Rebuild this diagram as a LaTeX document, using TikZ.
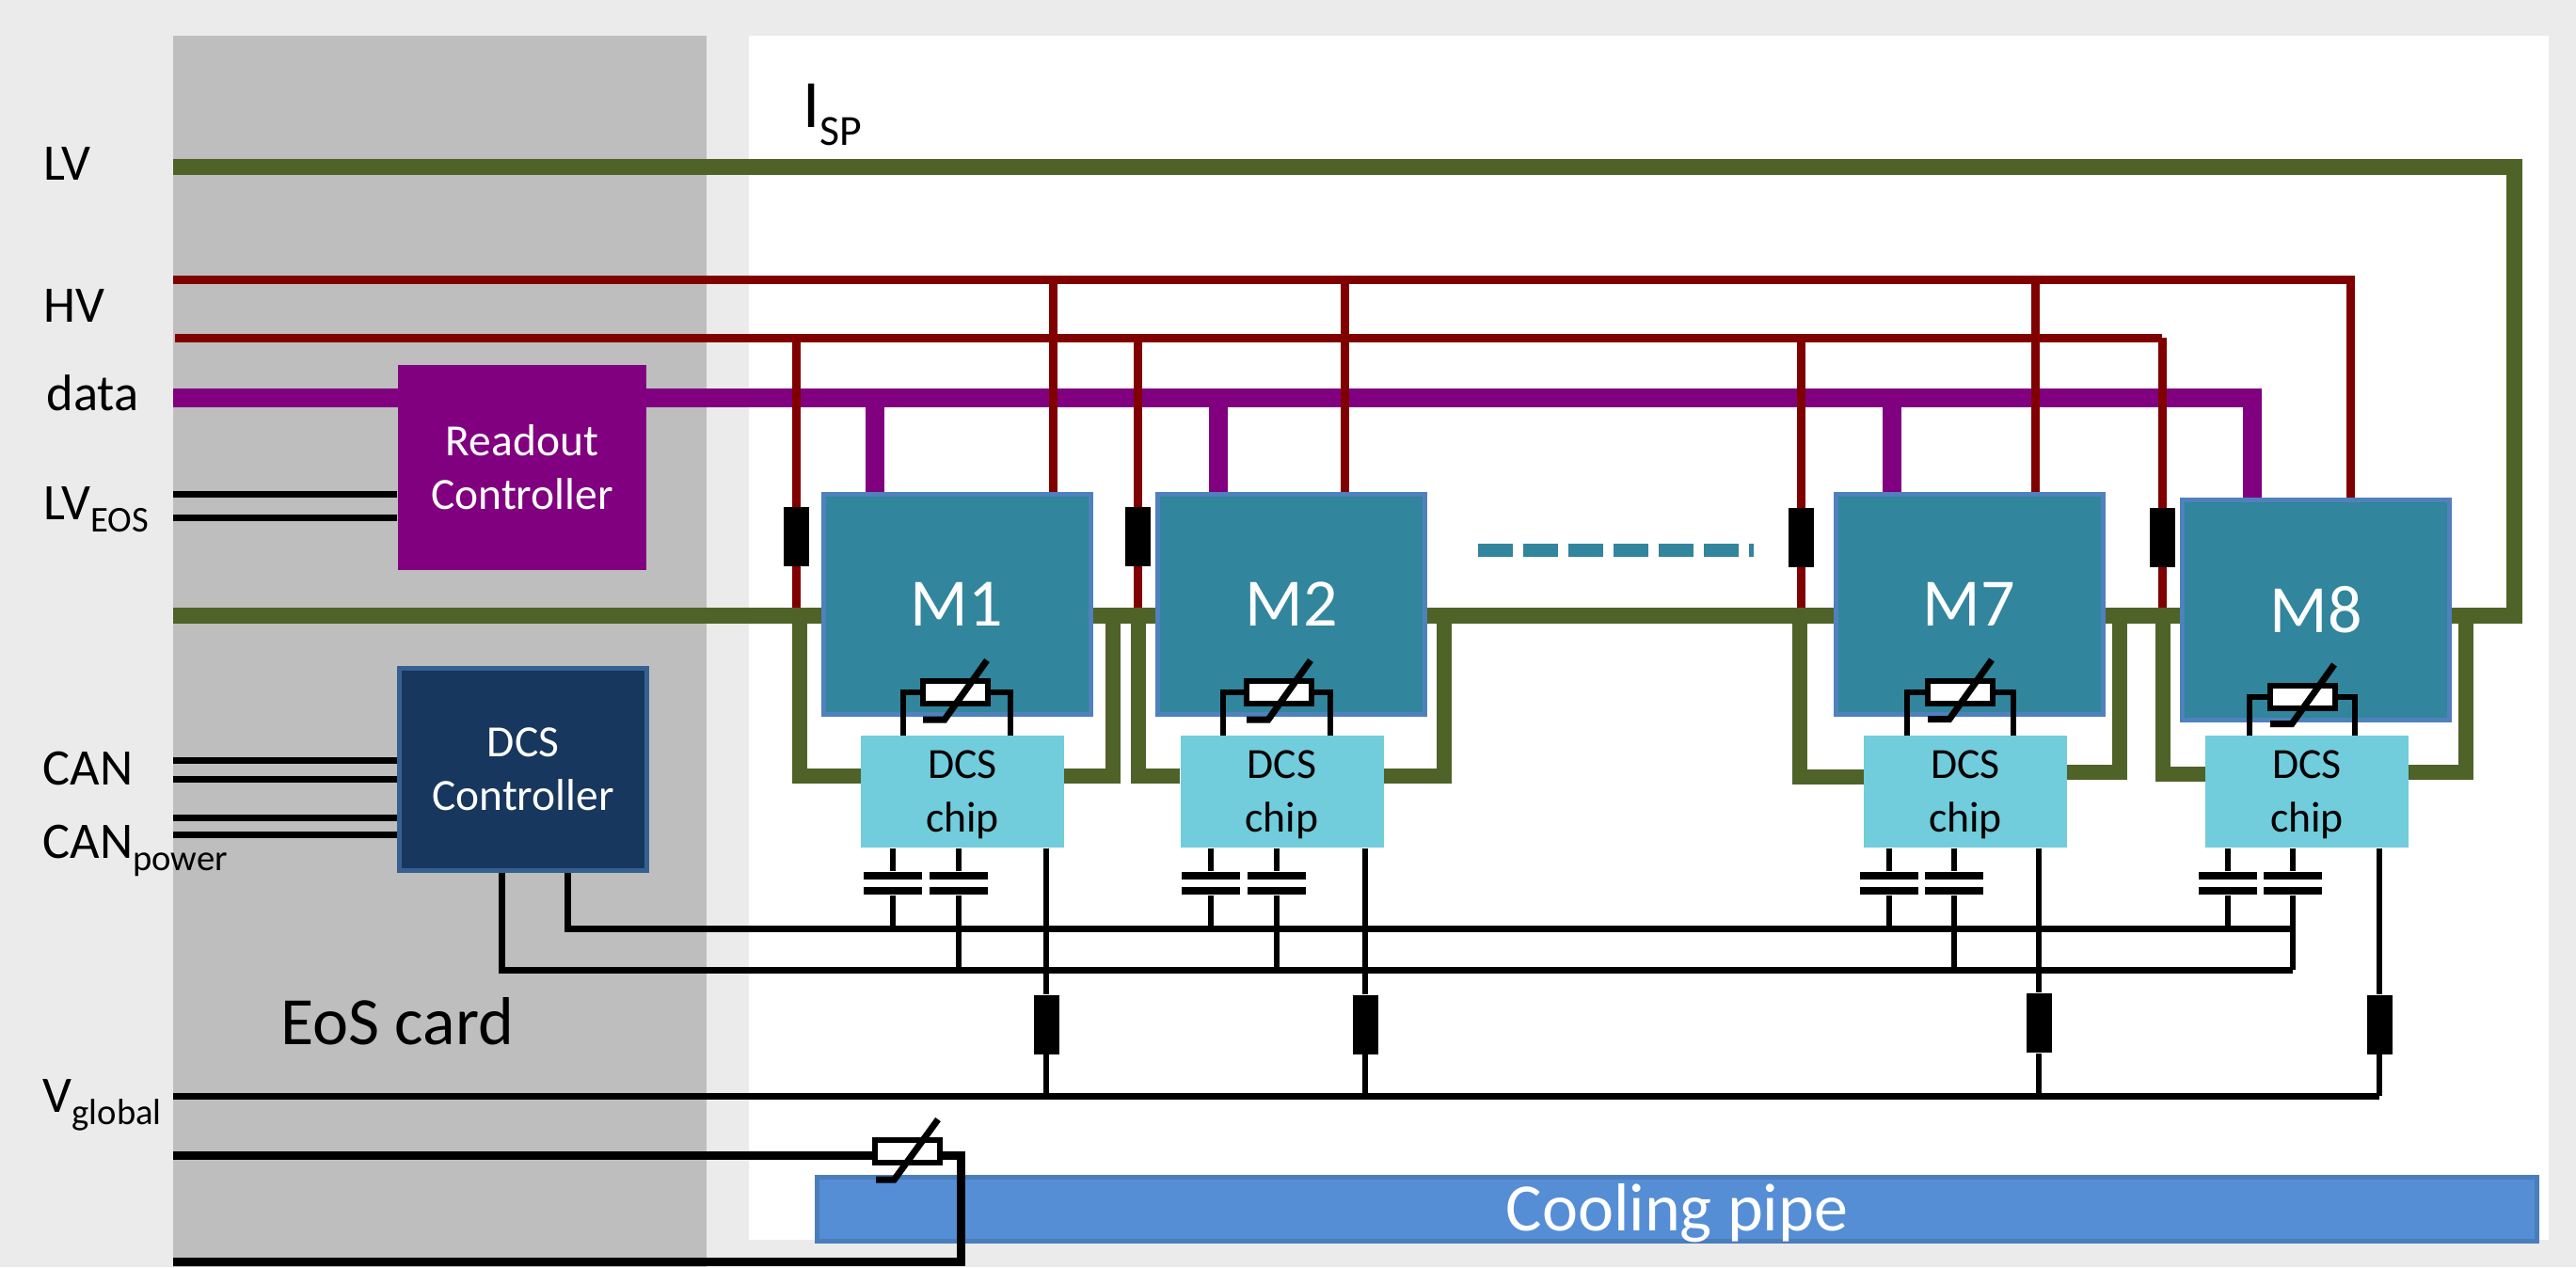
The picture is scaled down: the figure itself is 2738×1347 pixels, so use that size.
\documentclass[tikz,border=0pt]{standalone}
\usepackage{fontspec}
\setmainfont{Carlito}
\usepackage{xcolor}
\definecolor{cardBack}{HTML}{BEBEBE}
\definecolor{pageBack}{HTML}{EBEBEB}
\definecolor{wireLV}{HTML}{4F6228}
\definecolor{wireHV}{HTML}{800000}
\definecolor{wireData}{HTML}{800080}
\definecolor{modFill}{HTML}{31859C}
\definecolor{modEdge}{HTML}{4F81BD}
\definecolor{chipFill}{HTML}{71CCDC}
\definecolor{ctrlFill}{HTML}{17375E}
\definecolor{ctrlEdge}{HTML}{376092}
\definecolor{pipeFill}{HTML}{558ED5}
\definecolor{pipeEdge}{HTML}{4A7EBB}
\usetikzlibrary{calc}
\newcommand{\lowtxt}[1]{\raisebox{-1.3mm}{\fontsize{11}{11}\selectfont #1}}
\tikzset{
  lbl/.style={anchor=base west, inner sep=0pt, font=\fontsize{15.5}{18}\selectfont},
  bigbl/.style={anchor=base west, inner sep=0pt, font=\fontsize{20.5}{24}\selectfont},
  modbox/.style={draw=modEdge, line width=0.5mm, fill=modFill, text=white, inner sep=0pt, minimum width=28.4mm, minimum height=23.4mm, font=\fontsize{20.5}{24}\selectfont},
  chipbox/.style={fill=chipFill, inner sep=0pt, minimum width=21.6mm, minimum height=11.9mm, align=center, text depth=-1.5pt, font=\fontsize{13}{16.2}\selectfont},
  rdobox/.style={fill=wireData, text=white, inner sep=0pt, minimum width=26.4mm, minimum height=21.8mm, align=center, font=\fontsize{13.5}{16.2}\selectfont},
  dcsbox/.style={draw=ctrlEdge, line width=0.5mm, fill=ctrlFill, text=white, inner sep=0pt, minimum width=26.3mm, minimum height=21.5mm, align=center, font=\fontsize{13.5}{16.2}\selectfont},
  pipebox/.style={draw=pipeEdge, line width=0.5mm, fill=pipeFill, text=white, inner sep=0pt, minimum width=182.8mm, minimum height=6.8mm, text depth=1pt, font=\fontsize{20.5}{24}\selectfont},
  resbox/.style={fill=black, inner sep=0pt, minimum width=2.7mm, minimum height=6.3mm},
  thbox/.style={draw=black, line width=0.6mm, fill=white, inner sep=0pt, minimum width=6.9mm, minimum height=2.4mm},
  capplate/.style={fill=black, inner sep=0pt, minimum width=6.2mm, minimum height=0.8mm},
  lvbus/.style={wireLV, line width=1.7mm, line join=miter},
  lvloop/.style={wireLV, line width=1.6mm, line join=miter},
  hvwire/.style={wireHV, line width=0.9mm},
  databus/.style={wireData, line width=2mm},
  ctlwire/.style={black, line width=0.7mm},
  sigwire/.style={black, line width=0.6mm},
  thlead/.style={black, line width=0.6mm},
  thslash/.style={black, line width=0.7mm},
  powwire/.style={black, line width=0.9mm},
}

\begin{document}
\begin{tikzpicture}[x=0.1mm, y=-0.1mm]
  \useasboundingbox (0,0) rectangle (2738,1347);
  \fill[pageBack] (0,0) rectangle (2738,1347);
  \fill[cardBack] (184,38) rectangle (751,1347);
  \fill[white] (796,38) rectangle (2709,1318);

  \coordinate (lvTopL) at (184,178);
  \coordinate (lvTopR) at (2672,178);
  \coordinate (lvBotR) at (2672,654);
  \coordinate (lvBotL) at (184,654);
  \draw[lvbus] (lvTopL) -- (lvTopR) -- (lvBotR) -- (lvBotL);

  \coordinate (tapL1) at (850,654);
  \coordinate (tapR1) at (1183,654);
  \coordinate (tapL2) at (1210,654);
  \coordinate (tapR2) at (1535,654);
  \coordinate (tapL7) at (1913,654);
  \coordinate (tapR7) at (2253,654);
  \coordinate (tapL8) at (2299,654);
  \coordinate (tapR8) at (2621,654);
  \coordinate (pinL1) at (915,825);
  \coordinate (pinR1) at (1131,825);
  \coordinate (pinL2) at (1254,825);
  \coordinate (pinR2) at (1471,825);
  \coordinate (pinL7) at (1981,826);
  \coordinate (pinR7) at (2197,821);
  \coordinate (pinL8) at (2344,823);
  \coordinate (pinR8) at (2560,821);
  \draw[lvloop] (tapL1) |- (pinL1);
  \draw[lvloop] (tapR1) |- (pinR1);
  \draw[lvloop] (tapL2) |- (pinL2);
  \draw[lvloop] (tapR2) |- (pinR2);
  \draw[lvloop] (tapL7) |- (pinL7);
  \draw[lvloop] (tapR7) |- (pinR7);
  \draw[lvloop] (tapL8) |- (pinL8);
  \draw[lvloop] (tapR8) |- (pinR8);

  \node[modbox] (M1) at (1017,642.5) {M1};
  \node[modbox] (M2) at (1372.5,642.5) {M2};
  \node[modbox] (M7) at (2093,642.5) {M7};
  \node[modbox] (M8) at (2461.5,648.5) {M8};

  \coordinate (dataIn) at (184,422.5);
  \coordinate (dataEnd) at (2394,422.5);
  \coordinate (dataTap1) at (930,422.5);
  \coordinate (dataTap2) at (1295,422.5);
  \coordinate (dataTap7) at (2011,422.5);
  \draw[databus] (dataIn) -- (dataEnd) -- (dataEnd |- M8.north);
  \draw[databus] (dataTap1) -- (dataTap1 |- M1.north);
  \draw[databus] (dataTap2) -- (dataTap2 |- M2.north);
  \draw[databus] (dataTap7) -- (dataTap7 |- M7.north);

  \coordinate (hvAin) at (184,297);
  \coordinate (hvAend) at (2498,297);
  \coordinate (hvAtap1) at (1119,297);
  \coordinate (hvAtap2) at (1429,297);
  \coordinate (hvAtap7) at (2163,297);
  \draw[hvwire] (hvAin) -- (hvAend) -- (hvAend |- M8.north);
  \draw[hvwire] (hvAtap1) -- (hvAtap1 |- M1.north);
  \draw[hvwire] (hvAtap2) -- (hvAtap2 |- M2.north);
  \draw[hvwire] (hvAtap7) -- (hvAtap7 |- M7.north);

  \coordinate (hvBin) at (186,359);
  \coordinate (hvBend) at (2298,359);
  \coordinate (hvStop) at (184,646);
  \coordinate (rhc1) at (846.5,570.5);
  \coordinate (rhc2) at (1209,570.5);
  \coordinate (rhc7) at (1914.5,571);
  \coordinate (rhc8) at (2298,571);
  \draw[hvwire] (hvBin) -- (hvBend);
  \draw[hvwire] (rhc1 |- hvBin) -- (rhc1 |- hvStop);
  \draw[hvwire] (rhc2 |- hvBin) -- (rhc2 |- hvStop);
  \draw[hvwire] (rhc7 |- hvBin) -- (rhc7 |- hvStop);
  \draw[hvwire] (rhc8 |- hvBin) -- (rhc8 |- hvStop);
  \node[resbox] (rh1) at (rhc1) {};
  \node[resbox] (rh2) at (rhc2) {};
  \node[resbox] (rh7) at (rhc7) {};
  \node[resbox] (rh8) at (rhc8) {};

  \coordinate (dashA) at (1571,585);
  \coordinate (dashB) at (1864,585);
  \draw[modFill, line width=1.4mm, dash pattern=on 3.7mm off 1.1mm] (dashA) -- (dashB);

  \node[rdobox] (rdo) at (555,497) {Readout\\Controller};
  \node[dcsbox] (dcs) at (556,818) {DCS\\Controller};

  \coordinate (lvEosA) at (184,525);
  \coordinate (lvEosB) at (184,550);
  \draw[ctlwire] (lvEosA) -- (lvEosA -| rdo.west);
  \draw[ctlwire] (lvEosB) -- (lvEosB -| rdo.west);
  \coordinate (canA) at (184,808);
  \coordinate (canB) at (184,828);
  \coordinate (canC) at (184,869);
  \coordinate (canD) at (184,887);
  \draw[ctlwire] (canA) -- (canA -| dcs.west);
  \draw[ctlwire] (canB) -- (canB -| dcs.west);
  \draw[ctlwire] (canC) -- (canC -| dcs.west);
  \draw[ctlwire] (canD) -- (canD -| dcs.west);

  \node[chipbox] (chip1) at (1023,841.5) {DCS\\chip};
  \node[chipbox] (chip2) at (1362.5,841.5) {DCS\\chip};
  \node[chipbox] (chip7) at (2089,841.5) {DCS\\chip};
  \node[chipbox] (chip8) at (2452,841.5) {DCS\\chip};

  \node[thbox] (th1) at (1015,736) {};
  \node[thbox] (th2) at (1359,736) {};
  \node[thbox] (th7) at (2083,735.5) {};
  \node[thbox] (th8) at (2447,740.5) {};
  \coordinate (leadL1) at (960,782);
  \coordinate (leadR1) at (1074,782);
  \coordinate (leadL2) at (1300,782);
  \coordinate (leadR2) at (1414,782);
  \coordinate (leadL7) at (2027,782);
  \coordinate (leadR7) at (2140,782);
  \coordinate (leadL8) at (2391,782);
  \coordinate (leadR8) at (2503,782);
  \draw[thlead] (th1.west) -| (leadL1);
  \draw[thlead] (th1.east) -| (leadR1);
  \draw[thlead] (th2.west) -| (leadL2);
  \draw[thlead] (th2.east) -| (leadR2);
  \draw[thlead] (th7.west) -| (leadL7);
  \draw[thlead] (th7.east) -| (leadR7);
  \draw[thlead] (th8.west) -| (leadL8);
  \draw[thlead] (th8.east) -| (leadR8);
  \draw[thslash] ($(th1)+(34,-34)$) -- ($(th1)+(-11,29)$) -- ($(th1)+(-34,29)$);
  \draw[thslash] ($(th2)+(34,-34)$) -- ($(th2)+(-11,29)$) -- ($(th2)+(-34,29)$);
  \draw[thslash] ($(th7)+(34,-34)$) -- ($(th7)+(-11,29)$) -- ($(th7)+(-34,29)$);
  \draw[thslash] ($(th8)+(34,-34)$) -- ($(th8)+(-11,29)$) -- ($(th8)+(-34,29)$);

  \coordinate (busAin) at (603,987);
  \coordinate (busAend) at (2437,987);
  \coordinate (busBin) at (533,1031);
  \coordinate (busBend) at (2437,1031);
  \draw[ctlwire] (busAin |- dcs.south) -- (busAin) -- (busAend);
  \draw[ctlwire] (busBin |- dcs.south) -- (busBin) -- (busBend);

  \node[capplate] (cap1a) at (949,931) {};
  \node[capplate] (cap1b) at (949,947) {};
  \node[capplate] (cap1c) at (1019,931) {};
  \node[capplate] (cap1d) at (1019,947) {};
  \node[capplate] (cap2a) at (1287,931) {};
  \node[capplate] (cap2b) at (1287,947) {};
  \node[capplate] (cap2c) at (1356.5,931) {};
  \node[capplate] (cap2d) at (1356.5,947) {};
  \node[capplate] (cap7a) at (2007.5,931) {};
  \node[capplate] (cap7b) at (2007.5,947) {};
  \node[capplate] (cap7c) at (2077,931) {};
  \node[capplate] (cap7d) at (2077,947) {};
  \node[capplate] (cap8a) at (2368,931) {};
  \node[capplate] (cap8b) at (2368,947) {};
  \node[capplate] (cap8c) at (2437,931) {};
  \node[capplate] (cap8d) at (2437,947) {};
  \draw[sigwire] (cap1a |- chip1.south) -- (cap1a);
  \draw[sigwire] (cap1b) -- (cap1b |- busAin);
  \draw[sigwire] (cap1c |- chip1.south) -- (cap1c);
  \draw[sigwire] (cap1d) -- (cap1d |- busBin);
  \draw[sigwire] (cap2a |- chip2.south) -- (cap2a);
  \draw[sigwire] (cap2b) -- (cap2b |- busAin);
  \draw[sigwire] (cap2c |- chip2.south) -- (cap2c);
  \draw[sigwire] (cap2d) -- (cap2d |- busBin);
  \draw[sigwire] (cap7a |- chip7.south) -- (cap7a);
  \draw[sigwire] (cap7b) -- (cap7b |- busAin);
  \draw[sigwire] (cap7c |- chip7.south) -- (cap7c);
  \draw[sigwire] (cap7d) -- (cap7d |- busBin);
  \draw[sigwire] (cap8a |- chip8.south) -- (cap8a);
  \draw[sigwire] (cap8b) -- (cap8b |- busAin);
  \draw[sigwire] (cap8c |- chip8.south) -- (cap8c);
  \draw[sigwire] (cap8d) -- (cap8d |- busBin);

  \coordinate (vglobIn) at (184,1165);
  \node[resbox] (rg1) at (1112,1089) {};
  \node[resbox] (rg2) at (1451,1089) {};
  \node[resbox] (rg7) at (2167,1087.5) {};
  \node[resbox] (rg8) at (2529,1089) {};
  \draw[ctlwire] (vglobIn) -- (vglobIn -| rg8);
  \draw[sigwire] (rg1 |- chip1.south) -- (rg1) -- (rg1 |- vglobIn);
  \draw[sigwire] (rg2 |- chip2.south) -- (rg2) -- (rg2 |- vglobIn);
  \draw[sigwire] (rg7 |- chip7.south) -- (rg7) -- (rg7 |- vglobIn);
  \draw[sigwire] (rg8 |- chip8.south) -- (rg8) -- (rg8 |- vglobIn);

  \node[pipebox] (pipe) at (1782.5,1285) {Cooling pipe};

  \node[thbox] (th9) at (964,1224) {};
  \coordinate (sensIn) at (184,1228.5);
  \coordinate (sensOut) at (184,1341.5);
  \coordinate (sensTurn) at (1021,1341.5);
  \draw[powwire] (sensIn) -- (sensIn -| th9.west);
  \draw[powwire] (sensIn -| th9.east) -| (sensTurn) -- (sensOut);
  \draw[thslash] ($(th9)+(33,-34)$) -- ($(th9)+(-13.5,30)$) -- ($(th9)+(-33,30)$);

  \node[lbl] (lvlbl) at (46,191.5) {LV};
  \node[lbl] (hvlbl) at (46,342) {HV};
  \node[lbl] (datalbl) at (49,436) {data};
  \node[lbl] (lveoslbl) at (46,552) {LV\lowtxt{EOS}};
  \node[lbl] (canlbl) at (45,834) {CAN};
  \node[lbl] (canplbl) at (45,912) {CAN\lowtxt{power}};
  \node[lbl] (vgloblbl) at (45,1182) {V\lowtxt{global}};
  \node[bigbl] (eoslbl) at (298,1110) {EoS card};
  \node[bigbl] (isplbl) at (853,136) {I\raisebox{-1.9mm}{\fontsize{13}{13}\selectfont SP}};
\end{tikzpicture}
\end{document}
